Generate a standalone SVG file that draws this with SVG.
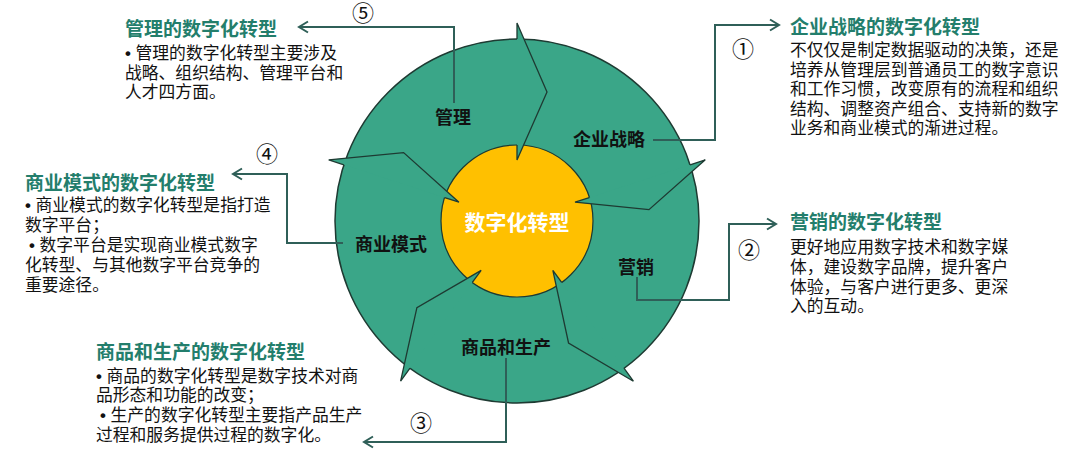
<svg xmlns="http://www.w3.org/2000/svg" width="1065" height="450" viewBox="0 0 1065 450">
<defs>
<style>
.t{font-family:"Noto Sans CJK SC","Noto Sans",sans-serif;}
.title{font-size:19px;font-weight:bold;fill:#237E6C;}
.body{font-size:16.8px;fill:#111;}
.b{font-family:"Liberation Sans",sans-serif;font-weight:bold;}
.lab{font-size:18px;font-weight:bold;fill:#111;text-anchor:middle;}
.num{font-size:22px;fill:#111;text-anchor:middle;}
.con{fill:none;stroke:#2F5F58;stroke-width:2;}
.af{fill:#3AA688;stroke:none;}
.as{fill:none;stroke:#1E3A32;stroke-width:1.3;stroke-linejoin:miter;}
</style>
<marker id="ah" markerUnits="userSpaceOnUse" markerWidth="14" markerHeight="14" refX="11" refY="7" orient="auto">
<path d="M2,1.5 L11,7 L2,12.5" fill="none" stroke="#2F5F58" stroke-width="2"/>
</marker>
<g id="arrowShape">
<polygon class="af" points="0,-198 30,-129 0,-61"/>
<polyline class="as" points="0,-182 0,-198 30,-129 0,-61 0,-76"/>
</g>
</defs>
<rect width="1065" height="450" fill="#fff"/>

<g id="ring">
<circle cx="517" cy="221" r="182" fill="#3AA688" stroke="#1E3A32" stroke-width="1.5"/>
<circle cx="517" cy="221" r="76" fill="#FFC000" stroke="#1E3A32" stroke-width="1.2"/>
<g transform="translate(517 221)">
<use href="#arrowShape"/>
<use href="#arrowShape" transform="rotate(72)"/>
<use href="#arrowShape" transform="rotate(144)"/>
<use href="#arrowShape" transform="rotate(216)"/>
<use href="#arrowShape" transform="rotate(288)"/>
</g>
</g>

<g id="connectors">
<polyline class="con" points="653,140 715,140 715,25 779,25" marker-end="url(#ah)"/>
<polyline class="con" points="637,277 637,300 729,300 729,224 776,224" marker-end="url(#ah)"/>
<polyline class="con" points="506,358 506,442 364,442" marker-end="url(#ah)"/>
<polyline class="con" points="343,243 287,243 287,174 233,174" marker-end="url(#ah)"/>
<polyline class="con" points="454,103 454,27 299,27" marker-end="url(#ah)"/>
<text class="t num" x="743" y="57">①</text>
<text class="t num" x="749" y="258">②</text>
<text class="t num" x="421" y="431">③</text>
<text class="t num" x="267" y="162">④</text>
<text class="t num" x="363" y="21">⑤</text>
</g>

<g id="center">
<text class="t" x="517" y="230" font-size="21" font-weight="bold" fill="#fff" text-anchor="middle">数字化转型</text>
</g>
<g id="node-guanli"><text class="t lab" x="453" y="124">管理</text></g>
<g id="node-zhanlue"><text class="t lab" x="609" y="146">企业战略</text></g>
<g id="node-moshi"><text class="t lab" x="391" y="251">商业模式</text></g>
<g id="node-yingxiao"><text class="t lab" x="636" y="274">营销</text></g>
<g id="node-shangpin"><text class="t lab" x="506" y="354">商品和生产</text></g>

<g id="desc-guanli" class="t">
<text class="title" x="125" y="36">管理的数字化转型</text>
<text class="body" x="125" y="59"><tspan class="b">• </tspan>管理的数字化转型主要涉及</text>
<text class="body" x="125" y="79">战略、组织结构、管理平台和</text>
<text class="body" x="125" y="98">人才四方面。</text>
</g>
<g id="desc-zhanlue" class="t">
<text class="title" x="790" y="34">企业战略的数字化转型</text>
<text class="body" x="790" y="56">不仅仅是制定数据驱动的决策，还是</text>
<text class="body" x="790" y="75.5">培养从管理层到普通员工的数字意识</text>
<text class="body" x="790" y="95">和工作习惯，改变原有的流程和组织</text>
<text class="body" x="790" y="114.5">结构、调整资产组合、支持新的数字</text>
<text class="body" x="790" y="134">业务和商业模式的渐进过程。</text>
</g>
<g id="desc-yingxiao" class="t">
<text class="title" x="790" y="229">营销的数字化转型</text>
<text class="body" x="790" y="253">更好地应用数字技术和数字媒</text>
<text class="body" x="790" y="273">体，建设数字品牌，提升客户</text>
<text class="body" x="790" y="292.5">体验，与客户进行更多、更深</text>
<text class="body" x="790" y="312">入的互动。</text>
</g>
<g id="desc-moshi" class="t">
<text class="title" x="25" y="190">商业模式的数字化转型</text>
<text class="body" x="25" y="211"><tspan class="b">• </tspan>商业模式的数字化转型是指打造</text>
<text class="body" x="25" y="231">数字平台；</text>
<text class="body" x="29" y="251"><tspan class="b">• </tspan>数字平台是实现商业模式数字</text>
<text class="body" x="25" y="271">化转型、与其他数字平台竞争的</text>
<text class="body" x="25" y="291">重要途径。</text>
</g>
<g id="desc-shangpin" class="t">
<text class="title" x="96" y="359">商品和生产的数字化转型</text>
<text class="body" x="96" y="382"><tspan class="b">• </tspan>商品的数字化转型是数字技术对商</text>
<text class="body" x="96" y="401">品形态和功能的改变；</text>
<text class="body" x="100" y="421"><tspan class="b">• </tspan>生产的数字化转型主要指产品生产</text>
<text class="body" x="96" y="441">过程和服务提供过程的数字化。</text>
</g>
</svg>
